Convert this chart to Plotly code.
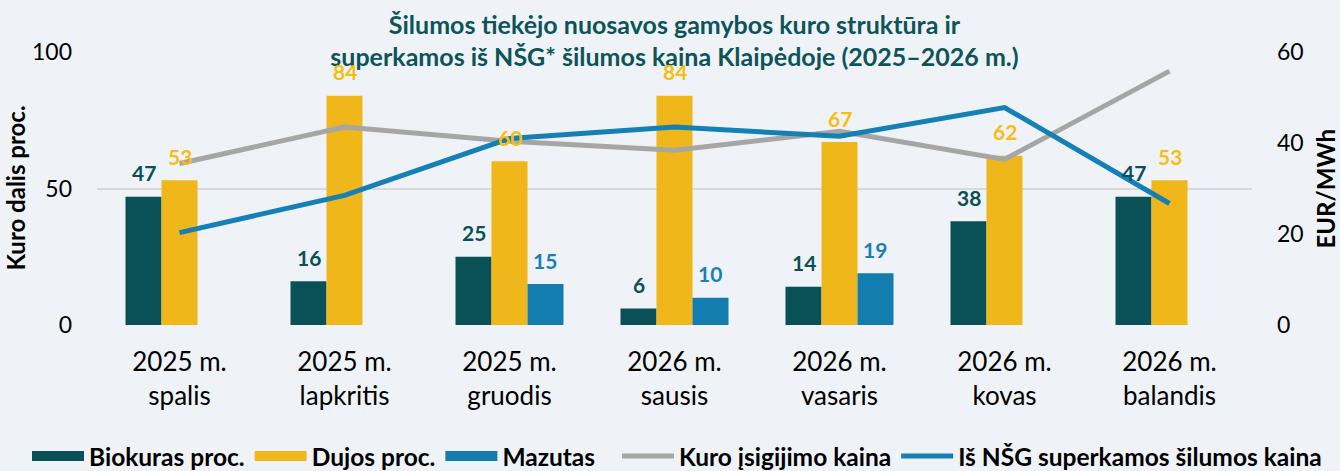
import plotly.graph_objects as go

categories = ["2025 m.<br>spalis", "2025 m.<br>lapkritis", "2025 m.<br>gruodis",
              "2026 m.<br>sausis", "2026 m.<br>vasaris", "2026 m.<br>kovas", "2026 m.<br>balandis"]
biokuras = [47, 16, 25, 6, 14, 38, 47]
dujos = [53, 84, 60, 84, 67, 62, 53]
mazutas = [None, None, 15, 10, 19, None, None]
kuro_kaina = [35.5, 43.5, 40.4, 38.4, 42.6, 36.4, 55.8]
nsg_kaina = [20.3, 28.5, 41.0, 43.5, 41.5, 47.8, 26.7]

FONT = "Lato"
BG = "#eff3f7"
C_BIO = "#0a5057"
C_DUJ = "#f0b71b"
C_MAZ = "#147db0"
C_GRAY = "#a6a6a6"
C_BLUE = "#1580b5"
L_BIO = "#0a5057"
L_DUJ = "#f7bd0f"
L_MAZ = "#1a80b4"

W, H = 1340, 471
ML, MR, MT, MB = 97, 88, 52, 146
BARGAP = 0.3455
plot_w = W - ML - MR
cat_px = plot_w / len(categories)
bar_px = cat_px * (1 - BARGAP) / 3

fig = go.Figure()
bar_series = [("Biokuras proc.", biokuras, C_BIO), ("Dujos proc.", dujos, C_DUJ), ("Mazutas", mazutas, C_MAZ)]
for name, vals, col in bar_series:
    fig.add_trace(go.Bar(name=name, x=categories, y=vals, marker_color=col,
                         marker_line_width=0, showlegend=False))
# legend entries for the bars (wide rectangular swatches)
for name, vals, col in bar_series:
    fig.add_trace(go.Scatter(name=f"<b>{name}</b>", x=[None], y=[None], mode="lines",
                             line=dict(color=col, width=16), legend="legend", hoverinfo="skip"))
fig.add_trace(go.Scatter(name="<b>Kuro įsigijimo kaina</b>", x=categories, y=kuro_kaina, yaxis="y2",
                         mode="lines", line=dict(color=C_GRAY, width=5), legend="legend2"))
fig.add_trace(go.Scatter(name="<b>Iš NŠG superkamos šilumos kaina</b>", x=categories, y=nsg_kaina,
                         yaxis="y2", mode="lines", line=dict(color=C_BLUE, width=5), legend="legend2"))

annotations = []
for series, color, shift in [(biokuras, L_BIO, -bar_px), (dujos, L_DUJ, 0), (mazutas, L_MAZ, bar_px)]:
    for c, v in zip(categories, series):
        if v is None:
            continue
        annotations.append(dict(x=c, y=v, xref="x", yref="y", text=f"<b>{v}</b>", showarrow=False,
                                xshift=shift, yshift=24, yanchor="middle",
                                font=dict(family=FONT, size=21, color=color)))

# axis titles
annotations.append(dict(text="<b>Kuro dalis proc.</b>", xref="paper", yref="paper",
                        x=(15 - ML) / plot_w, y=0.5, textangle=-90, showarrow=False,
                        xanchor="center", yanchor="middle",
                        font=dict(family=FONT, size=24, color="#000000")))
annotations.append(dict(text="<b>EUR/MWh</b>", xref="paper", yref="paper",
                        x=(1325 - ML) / plot_w, y=0.5, textangle=-90, showarrow=False,
                        xanchor="center", yanchor="middle",
                        font=dict(family=FONT, size=24, color="#000000")))

legend_common = dict(orientation="h", xanchor="left", xref="paper", y=-0.48, yanchor="middle",
                     yref="paper", font=dict(family=FONT, size=24.5), itemwidth=52,
                     traceorder="normal", bgcolor="rgba(0,0,0,0)")

fig.update_layout(
    width=W, height=H,
    margin=dict(l=ML, r=MR, t=MT, b=MB, autoexpand=False),
    paper_bgcolor=BG, plot_bgcolor=BG,
    barmode="group", bargap=BARGAP, bargroupgap=0,
    font=dict(family=FONT, color="#000000"),
    title=dict(text="<b>Šilumos tiekėjo nuosavos gamybos kuro struktūra ir<br>superkamos iš NŠG* šilumos kaina Klaipėdoje (2025–2026 m.)</b>",
               x=0.5, xref="paper", xanchor="center", y=0.928, yanchor="middle",
               font=dict(family=FONT, size=25, color="#0d5458")),
    xaxis=dict(tickfont=dict(family=FONT, size=26), showgrid=False, showline=False,
               ticks="", ticklabelstandoff=19, automargin=False),
    yaxis=dict(range=[0, 100], tickvals=[0, 50, 100], tickfont=dict(family=FONT, size=23),
               showgrid=True, gridcolor="#d9d9d9", gridwidth=1.5, zeroline=False, showline=False,
               ticks="", ticklabelstandoff=24, automargin=False),
    yaxis2=dict(range=[0, 60], tickvals=[0, 20, 40, 60], overlaying="y", side="right",
                tickfont=dict(family=FONT, size=23), showgrid=False, zeroline=False, showline=False,
                ticks="", ticklabelstandoff=24, automargin=False),
    legend=dict(x=(27 - ML) / plot_w, **legend_common),
    legend2=dict(x=(617 - ML) / plot_w, **legend_common),
    annotations=annotations,
)

fig.write_html("out.html", config={"displayModeBar": False},
               post_script="document.body.style.margin='0';document.body.style.padding='0';"
                           "document.body.style.overflow='hidden';")
